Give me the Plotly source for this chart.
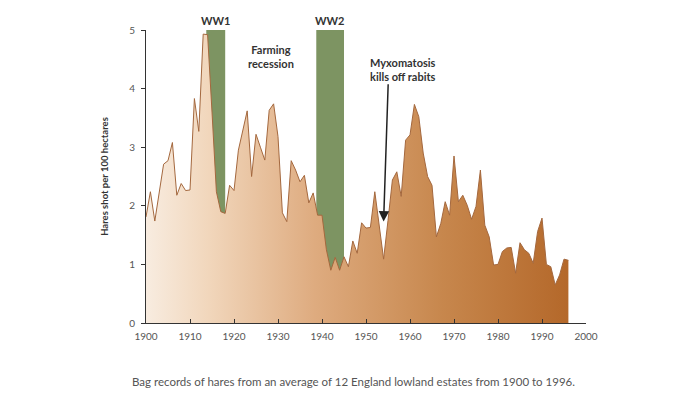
import plotly.graph_objects as go

years = list(range(1900, 1997))
hares = [1.81, 2.24, 1.74, 2.25, 2.71, 2.77, 3.08, 2.18, 2.38, 2.26,
         2.27, 3.83, 3.27, 4.93, 4.92, 3.60, 2.24, 1.90, 1.87, 2.35,
         2.26, 2.95, 3.29, 3.62, 2.50, 3.22, 3.00, 2.78, 3.63, 3.74,
         3.18, 1.88, 1.73, 2.77, 2.61, 2.41, 2.52, 2.05, 2.22, 1.84,
         1.84, 1.25, 0.90, 1.12, 0.90, 1.13, 0.96, 1.40, 1.19, 1.71,
         1.62, 1.63, 2.24, 1.64, 1.09, 1.75, 2.44, 2.58, 2.16, 3.12,
         3.21, 3.73, 3.52, 2.90, 2.50, 2.35, 1.47, 1.70, 2.07, 1.84,
         2.85, 2.07, 2.18, 2.01, 1.77, 1.99, 2.61, 1.67, 1.47, 0.99,
         1.00, 1.22, 1.28, 1.29, 0.85, 1.37, 1.25, 1.19, 1.02, 1.56,
         1.79, 1.00, 0.96, 0.65, 0.82, 1.09, 1.07]

wars = [("WW1", 1913.7, 1918.0), ("WW2", 1938.7, 1945.0)]
x_ticks = list(range(1900, 2001, 10))
y_ticks = [0, 1, 2, 3, 4, 5]

FONT = "Lato"

fig = go.Figure()

fig.add_trace(go.Scatter(
    x=years, y=hares, mode="lines", fill="tozeroy",
    line=dict(color="#a4683e", width=1),
    fillgradient=dict(type="horizontal", colorscale=[
        [0.0, "#f8ece0"], [0.15, "#f1d6bb"], [0.4, "#deab7f"],
        [0.7, "#c7874d"], [1.0, "#b4682a"]]),
    hoverinfo="skip", showlegend=False))

for name, x0, x1 in wars:
    fig.add_shape(type="rect", xref="x", yref="y", x0=x0, x1=x1, y0=0, y1=5,
                  fillcolor="#7d9462", line_width=0, layer="below")
    fig.add_annotation(x=(x0 + x1) / 2, y=5, yref="y", text="<b>%s</b>" % name,
                       showarrow=False, yanchor="bottom", yshift=1,
                       font=dict(family=FONT, size=11, color="#333333"))

fig.add_annotation(x=1928.3, y=4.55, text="<b>Farming<br>recession</b>",
                   showarrow=False, font=dict(family=FONT, size=11, color="#333333"))
fig.add_annotation(x=1958.3, y=4.33, text="<b>Myxomatosis<br>kills off rabits</b>",
                   showarrow=False, font=dict(family=FONT, size=11, color="#333333"))
fig.add_annotation(x=1954.0, y=1.73, ax=1955.05, ay=4.10, axref="x", ayref="y",
                   xref="x", yref="y", text="", showarrow=True,
                   arrowhead=2, arrowsize=1.4, arrowwidth=1.5, arrowcolor="#222222")

fig.add_annotation(x=-0.036, y=-0.198, xref="paper", yref="paper", showarrow=False,
                   xanchor="left", yanchor="middle",
                   text="Bag records of hares from an average of 12 England lowland estates from 1900 to 1996.",
                   font=dict(family=FONT, size=11.5, color="#555555"))

fig.update_layout(
    width=668, height=391,
    margin=dict(l=138, r=90, t=22, b=76),
    paper_bgcolor="white", plot_bgcolor="white",
    font=dict(family=FONT, color="#555555", size=10),
    xaxis=dict(range=[1900, 2000], tickvals=x_ticks, showgrid=False, zeroline=False,
               showline=True, linecolor="#333333", linewidth=1,
               ticks="inside", ticklen=4, tickcolor="#333333", ticklabelstandoff=4,
               tickfont=dict(family=FONT, size=10, color="#555555")),
    yaxis=dict(range=[0, 5], tickvals=y_ticks, showgrid=False, zeroline=False,
               showline=True, linecolor="#333333", linewidth=1,
               ticks="outside", ticklen=4, tickcolor="#333333", ticklabelstandoff=4,
               tickfont=dict(family=FONT, size=10, color="#555555"),
               title=dict(text="<b>Hares shot per 100 hectares</b>", standoff=18,
                          font=dict(family=FONT, size=9.5, color="#333333"))),
)

fig.write_html("out.html")
